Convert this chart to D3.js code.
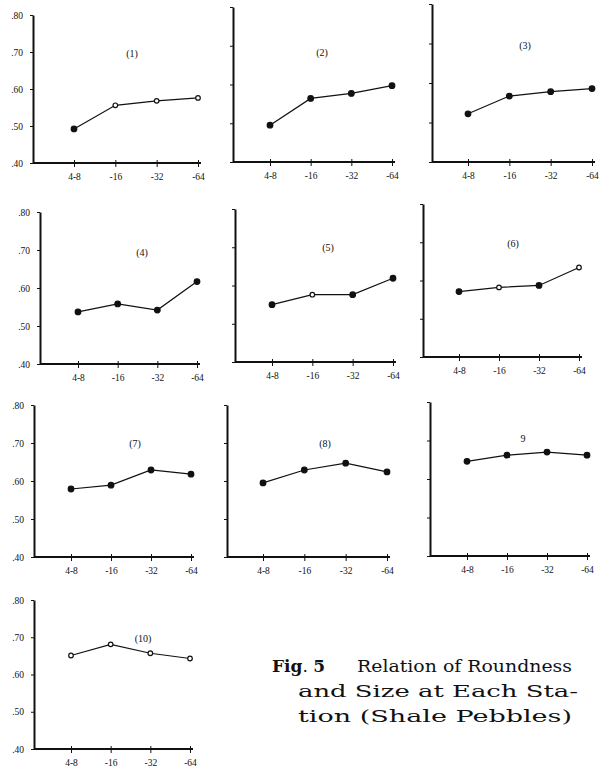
<!DOCTYPE html>
<html>
<head>
<meta charset="utf-8">
<script src="https://cdnjs.cloudflare.com/ajax/libs/d3/7.8.5/d3.min.js"></script>
<style>
	body { margin: 0; background: #fff; }
	svg text { font-family: "DejaVu Serif", "Liberation Serif", serif; }
	.axis path { stroke: #111; stroke-width: 2; }
	.axis line { stroke: #111; stroke-width: 1; }
	.axis text { font-size: 9.5px; fill: #111; font-family: "Liberation Serif", "DejaVu Serif", serif; }
	.panelLabel { font-size: 10px; fill: #111; text-anchor: middle; font-family: "Liberation Serif", serif; }
	.caption text { font-size: 17px; fill: #111; }
</style>
</head>
<body>
<div id="chart"></div>
<script>

//////////////////////////////// Data ////////////////////////////////

var sizes = ["4-8", "-16", "-32", "-64"];
var yTicks = [0.40, 0.50, 0.60, 0.70, 0.80];
var stations = ["(1)", "(2)", "(3)", "(4)", "(5)", "(6)", "(7)", "(8)", "9", "(10)"];

var st1  = [0.492, 0.556, 0.568, 0.576];
var st2  = [0.495, 0.564, 0.577, 0.597];
var st3  = [0.522, 0.567, 0.578, 0.586];
var st4  = [0.537, 0.558, 0.542, 0.617];
var st5  = [0.550, 0.576, 0.576, 0.619];
var st6  = [0.571, 0.582, 0.587, 0.634];
var st7  = [0.579, 0.589, 0.629, 0.618];
var st8  = [0.595, 0.629, 0.647, 0.624];
var st9  = [0.646, 0.662, 0.670, 0.662];
var st10 = [0.651, 0.681, 0.657, 0.643];
var roundness = [st1, st2, st3, st4, st5, st6, st7, st8, st9, st10];

//////////////////////////////// Layout ////////////////////////////////

//frame of every small panel as drawn in the print
var frames = [
	{left: 33,  bottom: 163, top: 15,  x0: 74,  x1: 198, lx: 132, ly: 53,  labels: true,  open: [1,2,3]},
	{left: 233, bottom: 162, top: 7,   x0: 270, x1: 392, lx: 322, ly: 52,  labels: false, open: []},
	{left: 432, bottom: 162, top: 4,   x0: 468, x1: 592, lx: 525, ly: 45,  labels: false, open: []},
	{left: 40,  bottom: 364, top: 212, x0: 78,  x1: 197, lx: 142, ly: 252, labels: true,  open: []},
	{left: 235, bottom: 362, top: 209, x0: 272, x1: 393, lx: 328, ly: 247, labels: false, open: [1]},
	{left: 423, bottom: 357, top: 204, x0: 459, x1: 579, lx: 513, ly: 243, labels: false, open: [1,3]},
	{left: 34,  bottom: 557, top: 405, x0: 71,  x1: 191, lx: 135, ly: 443, labels: true,  open: []},
	{left: 227, bottom: 557, top: 405, x0: 263, x1: 387, lx: 325, ly: 443, labels: false, open: []},
	{left: 430, bottom: 556, top: 402, x0: 467, x1: 587, lx: 523, ly: 438, labels: false, open: []},
	{left: 34,  bottom: 749, top: 600, x0: 71,  x1: 190, lx: 143, ly: 638, labels: true,  open: [0,1,2,3]}
];

var svg = d3.select("#chart").append("svg")
	.attr("width", 605)
	.attr("height", 769);

var fmt = function(d) { return d3.format(".2f")(d).replace(/^0/, ""); };

frames.forEach(function(f, i) {
	var g = svg.append("g");

	var x = d3.scalePoint().domain(sizes).range([f.x0, f.x1]);
	var y = d3.scaleLinear().domain([0.40, 0.80]).range([f.bottom, f.top]);

	//left axis
	g.append("g")
		.attr("class", "axis")
		.attr("transform", "translate(" + f.left + ",0)")
		.call(d3.axisLeft(y).tickValues(yTicks).tickSize(3).tickSizeOuter(0).tickPadding(7)
			.tickFormat(f.labels ? fmt : ""));

	//bottom axis
	var xa = g.append("g")
		.attr("class", "axis")
		.attr("transform", "translate(0," + f.bottom + ")")
		.call(d3.axisBottom(x).tickSize(4).tickSizeOuter(0).tickPadding(6));
	xa.select(".domain").attr("d", "M" + f.left + ",0H" + (f.x1 + 3));
	xa.selectAll(".tick line").attr("y1", -3);

	//station label
	g.append("text")
		.attr("class", "panelLabel")
		.attr("x", f.lx)
		.attr("y", f.ly + 4)
		.text(stations[i]);

	var pts = roundness[i].map(function(v, j) { return {size: sizes[j], value: v, j: j}; });

	g.append("path")
		.datum(pts)
		.attr("fill", "none")
		.attr("stroke", "#111")
		.attr("stroke-width", 1.2)
		.attr("d", d3.line().x(function(d) { return x(d.size); }).y(function(d) { return y(d.value); }));

	g.selectAll(".pt")
		.data(pts)
		.enter().append("circle")
		.attr("class", "pt")
		.attr("cx", function(d) { return x(d.size); })
		.attr("cy", function(d) { return y(d.value); })
		.attr("r", function(d) { return f.open.indexOf(d.j) >= 0 ? 2.3 : 2.8; })
		.attr("fill", function(d) { return f.open.indexOf(d.j) >= 0 ? "#fff" : "#111"; })
		.attr("stroke", "#111")
		.attr("stroke-width", 1.2);
});

//////////////////////////////// Caption ////////////////////////////////

var cap = svg.append("g").attr("class", "caption");

var line1 = cap.append("text").attr("x", 272).attr("y", 672);
line1.append("tspan").attr("font-weight", "bold").text("Fig");
line1.append("tspan").text(". ");
line1.append("tspan").attr("font-weight", "bold").text("5");

cap.append("text").attr("x", 357).attr("y", 672)
	.attr("textLength", 215).attr("lengthAdjust", "spacingAndGlyphs").text("Relation of Roundness");
cap.append("text").attr("x", 298).attr("y", 697)
	.attr("textLength", 280).attr("lengthAdjust", "spacingAndGlyphs").text("and Size at Each Sta-");
cap.append("text").attr("x", 298).attr("y", 722)
	.attr("textLength", 274).attr("lengthAdjust", "spacingAndGlyphs").text("tion (Shale Pebbles)");

</script>
</body>
</html>
